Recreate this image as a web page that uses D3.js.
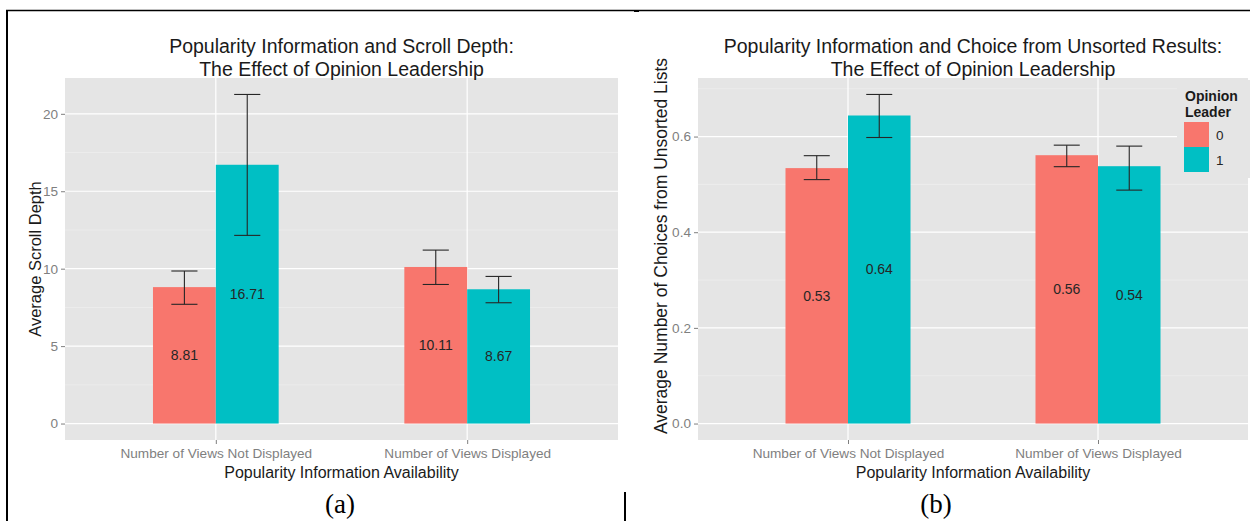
<!DOCTYPE html>
<html lang="en">
<head>
  <meta charset="UTF-8" />
  <title>Popularity Information and Opinion Leadership</title>
  <script src="https://d3js.org/d3.v7.min.js"></script>
  <style>
    body {
      margin: 0;
      background: #fff;
      font-family: "Liberation Sans", Arial, sans-serif;
    }
    svg {
      display: block;
      background-color: #fff;
    }
  </style>
</head>
<body>
  <div id="chart"></div>

  <script>
    // data
    const groups = ["Number of Views Not Displayed", "Number of Views Displayed"];
    const leaders = ["0", "1"];

    const depthMean0 = [8.81, 10.11];
    const depthMean1 = [16.71, 8.67];
    const depthLow0 = [7.7, 8.98];
    const depthHigh0 = [9.85, 11.2];
    const depthLow1 = [12.15, 7.8];
    const depthHigh1 = [21.25, 9.5];
    const depthTicks = [0, 5, 10, 15, 20];

    const choiceMean0 = [0.534, 0.561];
    const choiceMean1 = [0.644, 0.538];
    const choiceLow0 = [0.51, 0.537];
    const choiceHigh0 = [0.56, 0.582];
    const choiceLow1 = [0.598, 0.488];
    const choiceHigh1 = [0.688, 0.58];
    const choiceTicks = [0, 0.2, 0.4, 0.6];

    const colors = { "0": "#F8766D", "1": "#00BFC4" };

    const W = 1250, H = 521;
    const svg = d3.select("#chart")
      .append("svg")
      .attr("width", W)
      .attr("height", H);

    function toRows(m0, m1, lo0, hi0, lo1, hi1) {
      const rows = [];
      groups.forEach((g, i) => {
        rows.push({ group: g, leader: "0", value: m0[i], lo: lo0[i], hi: hi0[i] });
        rows.push({ group: g, leader: "1", value: m1[i], lo: lo1[i], hi: hi1[i] });
      });
      return rows;
    }

    function drawPanel(opt) {
      const { left, right, top, bottom, rows, ticks, tickFmt, labelFmt, title, yTitle, yTitleX, yTitleY, yTitleSize } = opt;

      // y range like ggplot: data incl. 0 plus 5% each side
      const maxV = d3.max(rows, d => Math.max(d.hi, d.value));
      const pad = maxV * 0.05;
      const y = d3.scaleLinear().domain([-pad, maxV + pad]).range([bottom, top]);

      const x0 = d3.scalePoint().domain(groups).range([left, right]).padding(0.6);
      const step = x0.step();
      const x1 = d3.scaleBand().domain(leaders).range([-0.25 * step, 0.25 * step]);

      const g = svg.append("g");

      g.append("rect")
        .attr("x", left).attr("y", top)
        .attr("width", right - left).attr("height", bottom - top)
        .attr("fill", "#E5E5E5");

      // minor grid
      const minor = ticks.slice(0, -1).map((t, i) => (t + ticks[i + 1]) / 2);
      minor.push(ticks[ticks.length - 1] + (ticks[1] - ticks[0]) / 2);
      g.selectAll(".minor")
        .data(minor.filter(v => y(v) > top))
        .join("line")
        .attr("x1", left).attr("x2", right)
        .attr("y1", d => y(d)).attr("y2", d => y(d))
        .attr("stroke", "#F2F2F2").attr("stroke-width", 0.6);

      g.selectAll(".major")
        .data(ticks)
        .join("line")
        .attr("x1", left).attr("x2", right)
        .attr("y1", d => y(d)).attr("y2", d => y(d))
        .attr("stroke", "#fff").attr("stroke-width", 1.2);

      g.selectAll(".vgrid")
        .data(groups)
        .join("line")
        .attr("x1", d => x0(d)).attr("x2", d => x0(d))
        .attr("y1", top).attr("y2", bottom)
        .attr("stroke", "#fff").attr("stroke-width", 1.2);

      // bars
      g.selectAll(".bar")
        .data(rows)
        .join("rect")
        .attr("x", d => x0(d.group) + x1(d.leader))
        .attr("y", d => y(d.value))
        .attr("width", x1.bandwidth())
        .attr("height", d => y(0) - y(d.value))
        .attr("fill", d => colors[d.leader]);

      // error bars
      const cap = 0.052 * step;
      const eb = g.selectAll(".eb")
        .data(rows)
        .join("g")
        .attr("transform", d => `translate(${x0(d.group) + x1(d.leader) + x1.bandwidth() / 2},0)`)
        .attr("stroke", "#262626")
        .attr("stroke-width", 1.1);
      eb.append("line").attr("y1", d => y(d.lo)).attr("y2", d => y(d.hi));
      eb.append("line").attr("x1", -cap).attr("x2", cap).attr("y1", d => y(d.lo)).attr("y2", d => y(d.lo));
      eb.append("line").attr("x1", -cap).attr("x2", cap).attr("y1", d => y(d.hi)).attr("y2", d => y(d.hi));

      // value labels at half height
      g.selectAll(".lbl")
        .data(rows)
        .join("text")
        .attr("x", d => x0(d.group) + x1(d.leader) + x1.bandwidth() / 2)
        .attr("y", d => y(d.value / 2))
        .attr("dy", "0.35em")
        .attr("text-anchor", "middle")
        .attr("font-size", 14)
        .attr("fill", "#262626")
        .text(d => labelFmt(d.value));

      // axes
      const yAxis = g.append("g")
        .attr("transform", `translate(${left},0)`)
        .call(d3.axisLeft(y).tickValues(ticks).tickFormat(tickFmt).tickSize(4).tickPadding(3));
      const xAxis = g.append("g")
        .attr("transform", `translate(0,${bottom})`)
        .call(d3.axisBottom(x0).tickSize(4).tickPadding(4));
      [yAxis, xAxis].forEach(a => {
        a.select(".domain").remove();
        a.selectAll("line").attr("stroke", "#7F7F7F");
        a.selectAll("text")
          .attr("fill", "#7F7F7F")
          .attr("font-size", 13.6)
          .attr("font-family", "'Liberation Sans', Arial, sans-serif");
      });

      const cx = (left + right) / 2;
      g.append("text")
        .attr("x", cx).attr("y", 478)
        .attr("text-anchor", "middle")
        .attr("font-size", 16)
        .attr("fill", "#1a1a1a")
        .text("Popularity Information Availability");

      g.append("text")
        .attr("transform", `translate(${yTitleX},${yTitleY}) rotate(-90)`)
        .attr("text-anchor", "middle")
        .attr("font-size", yTitleSize)
        .attr("fill", "#1a1a1a")
        .text(yTitle);

      title.forEach((t, i) => {
        g.append("text")
          .attr("x", cx).attr("y", 53 + i * 23)
          .attr("text-anchor", "middle")
          .attr("font-size", 19.5)
          .attr("fill", "#1a1a1a")
          .text(t);
      });

      return { g, y };
    }

    drawPanel({
      left: 65, right: 618, top: 78, bottom: 440,
      rows: toRows(depthMean0, depthMean1, depthLow0, depthHigh0, depthLow1, depthHigh1),
      ticks: depthTicks,
      tickFmt: d3.format("d"),
      labelFmt: d3.format(".2f"),
      title: ["Popularity Information and Scroll Depth:", "The Effect of Opinion Leadership"],
      yTitle: "Average Scroll Depth",
      yTitleX: 41,
      yTitleY: 259,
      yTitleSize: 16.5
    });

    const right = drawPanel({
      left: 698, right: 1248, top: 78, bottom: 440,
      rows: toRows(choiceMean0, choiceMean1, choiceLow0, choiceHigh0, choiceLow1, choiceHigh1),
      ticks: choiceTicks,
      tickFmt: d3.format(".1f"),
      labelFmt: d3.format(".2f"),
      title: ["Popularity Information and Choice from Unsorted Results:", "The Effect of Opinion Leadership"],
      yTitle: "Average Number of Choices from Unsorted Lists",
      yTitleX: 667,
      yTitleY: 246,
      yTitleSize: 17.5
    });

    // legend sits inside the right panel
    const legend = right.g.append("g").attr("transform", "translate(1177,80)");
    legend.append("rect")
      .attr("width", 73).attr("height", 98)
      .attr("fill", "#E5E5E5");
    ["Opinion", "Leader"].forEach((t, i) => {
      legend.append("text")
        .attr("x", 8).attr("y", 21 + i * 16)
        .attr("font-size", 14)
        .attr("font-weight", "bold")
        .attr("fill", "#1a1a1a")
        .text(t);
    });
    leaders.forEach((l, i) => {
      const row = legend.append("g").attr("transform", `translate(7,${42 + i * 25})`);
      row.append("rect")
        .attr("width", 25).attr("height", 25)
        .attr("fill", colors[l]);
      row.append("text")
        .attr("x", 32).attr("y", 13)
        .attr("dy", "0.35em")
        .attr("font-size", 13.5)
        .attr("fill", "#262626")
        .text(l);
    });

    // figure captions and table rules
    [["(a)", 340], ["(b)", 936]].forEach(([t, x]) => {
      svg.append("text")
        .attr("x", x).attr("y", 513)
        .attr("text-anchor", "middle")
        .attr("font-family", "'Liberation Serif', 'Times New Roman', serif")
        .attr("font-size", 27)
        .attr("fill", "#000")
        .text(t);
    });

    svg.append("line")
      .attr("x1", 7).attr("x2", 7).attr("y1", 10).attr("y2", H)
      .attr("stroke", "#000").attr("stroke-width", 2);
    svg.append("line")
      .attr("x1", 6).attr("x2", W).attr("y1", 10.5).attr("y2", 10.5)
      .attr("stroke", "#000").attr("stroke-width", 1.5);
    svg.append("line")
      .attr("x1", 625).attr("x2", 625).attr("y1", 492).attr("y2", H)
      .attr("stroke", "#000").attr("stroke-width", 2);
    svg.append("rect")
      .attr("x", 634).attr("y", 10).attr("width", 5).attr("height", 2)
      .attr("fill", "#000");
  </script>
</body>
</html>
